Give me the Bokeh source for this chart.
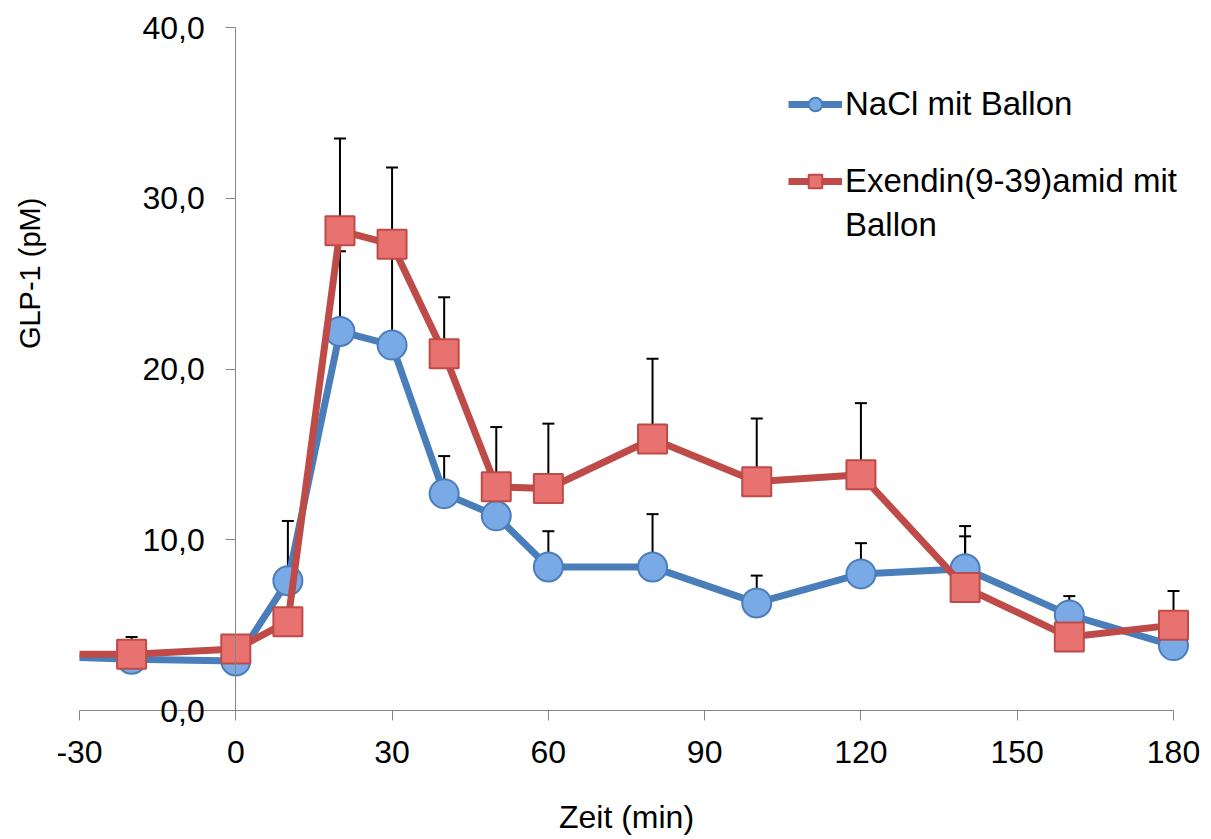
import math
from bokeh.plotting import figure
from bokeh.models import (ColumnDataSource, FixedTicker, CustomJSTickFormatter, Whisker,
                          TeeHead, Legend, LegendItem, Label)
from bokeh.embed import file_html
from bokeh.resources import INLINE

# ---- data ----
times = [-30, -20, 0, 10, 20, 30, 40, 50, 60, 80, 100, 120, 140, 160, 180]
nacl = [3.1, 3.0, 2.9, 7.6, 22.2, 21.4, 12.7, 11.4, 8.4, 8.4, 6.3, 8.0, 8.3, 5.6, 3.8]
nacl_sem = [0.0, 0.4, 0.3, 3.5, 4.7, 5.8, 2.2, 0.6, 2.1, 3.1, 1.6, 1.8, 1.9, 1.1, 0.7]
exendin = [3.3, 3.3, 3.6, 5.2, 28.1, 27.3, 20.9, 13.1, 13.0, 15.9, 13.4, 13.8, 7.2, 4.3, 5.0]
exendin_sem = [0.0, 1.0, 0.3, 0.6, 5.4, 4.5, 3.3, 3.5, 3.8, 4.7, 3.7, 4.2, 3.6, 1.0, 2.0]

x_ticks = [-30, 0, 30, 60, 90, 120, 150, 180]
y_ticks = [0, 10, 20, 30, 40]

series_names = ["NaCl mit Ballon", "Exendin(9-39)amid mit", "Ballon"]
x_title = "Zeit (min)"
y_title = "GLP-1 (pM)"

FONT = "Liberation Sans"
BLUE_LINE = "#4a7ebb"
BLUE_FILL = "#7aaae6"
RED_LINE = "#be4b48"
RED_FILL = "#e8726f"

# canvas geometry: x=-30 at 79px, x=180 at 1173px; y=0 at 710px, y=40 at 27px
W, H = 1211, 839
px_x = (1173 - 79) / (x_ticks[-1] - x_ticks[0])
px_y = (710 - 27) / (y_ticks[-1] - y_ticks[0])
x_lo = x_ticks[0] - 79 / px_x
x_hi = x_ticks[-1] + (W - 1173) / px_x
y_lo = y_ticks[0] - (H - 710) / px_y
y_hi = y_ticks[-1] + 27 / px_y

line_src_b = ColumnDataSource(dict(x=times, y=nacl))
line_src_r = ColumnDataSource(dict(x=times, y=exendin))
pts_b = ColumnDataSource(dict(x=times[1:], y=nacl[1:],
                              up=[m + s for m, s in zip(nacl[1:], nacl_sem[1:])]))
pts_r = ColumnDataSource(dict(x=times[1:], y=exendin[1:],
                              up=[m + s for m, s in zip(exendin[1:], exendin_sem[1:])]))

p = figure(width=W, height=H, x_range=(x_lo, x_hi), y_range=(y_lo, y_hi),
           output_backend="svg", toolbar_location=None,
           min_border_left=0, min_border_right=0, min_border_top=0, min_border_bottom=0)
p.xgrid.visible = False
p.ygrid.visible = False
p.outline_line_color = None
p.background_fill_color = "white"

# axes
for ax in (p.xaxis[0], p.yaxis[0]):
    ax.axis_line_color = "#868686"
    ax.major_tick_line_color = "#868686"
    ax.minor_tick_line_color = None
    ax.major_tick_in = 0
    ax.major_tick_out = 10
    ax.major_label_text_font = FONT
    ax.major_label_text_font_size = "32px"
    ax.major_label_text_color = "black"

p.xaxis.ticker = FixedTicker(ticks=x_ticks)
p.xaxis.fixed_location = 0
p.xaxis.bounds = (x_ticks[0], x_ticks[-1])
p.xaxis.formatter = CustomJSTickFormatter(code="return tick.toFixed(0);")
p.xaxis.major_label_standoff = 20
p.xaxis.axis_label = x_title
p.xaxis.axis_label_text_font = FONT
p.xaxis.axis_label_text_font_size = "32px"
p.xaxis.axis_label_text_font_style = "normal"
p.xaxis.axis_label_text_color = "black"
p.xaxis.axis_label_standoff = 33

p.yaxis.ticker = FixedTicker(ticks=y_ticks)
p.yaxis.fixed_location = 0
p.yaxis.bounds = (y_ticks[0], y_ticks[-1])
p.yaxis.major_label_standoff = 21
p.yaxis.formatter = CustomJSTickFormatter(code="return tick.toFixed(1).replace('.', ',');")

p.add_layout(Label(x=x_ticks[0], y=25.6, x_offset=-50, text=y_title, angle=math.pi / 2,
                   text_align="center", text_baseline="middle", text_font=FONT,
                   text_font_size="29px", text_color="black"))

# error bars (upper only)
for src in (pts_b, pts_r):
    p.add_layout(Whisker(source=src, base="x", lower="y", upper="up", dimension="height",
                         line_color="black", line_width=2,
                         upper_head=TeeHead(size=12, line_color="black", line_width=2),
                         lower_head=None))

lb = p.line("x", "y", source=line_src_b, line_color=BLUE_LINE, line_width=7)
mb = p.scatter("x", "y", source=pts_b, marker="circle", size=29,
               fill_color=BLUE_FILL, line_color=BLUE_LINE, line_width=2)
lr = p.line("x", "y", source=line_src_r, line_color=RED_LINE, line_width=7)
mr = p.scatter("x", "y", source=pts_r, marker="square", size=29,
               fill_color=RED_FILL, line_color=RED_LINE, line_width=2)
dummy = p.scatter(x=[], y=[], size=1, fill_alpha=0, line_alpha=0)

def make_legend(items, loc, spacing=0):
    return Legend(items=items, location=loc, orientation="vertical",
                  label_text_font=FONT, label_text_font_size="33px", label_text_color="black",
                  glyph_width=54, glyph_height=34, label_height=34, label_standoff=3,
                  spacing=spacing, padding=0, margin=0,
                  border_line_color=None, background_fill_alpha=0)

leg1 = make_legend([LegendItem(label=series_names[0], renderers=[lb, mb])], (788, 716))
leg2 = make_legend([LegendItem(label=series_names[1], renderers=[lr, mr]),
                    LegendItem(label=series_names[2], renderers=[dummy])], (788, 595), spacing=6)
p.add_layout(leg1)
p.add_layout(leg2)

open("out.html", "w").write(file_html(p, INLINE))
